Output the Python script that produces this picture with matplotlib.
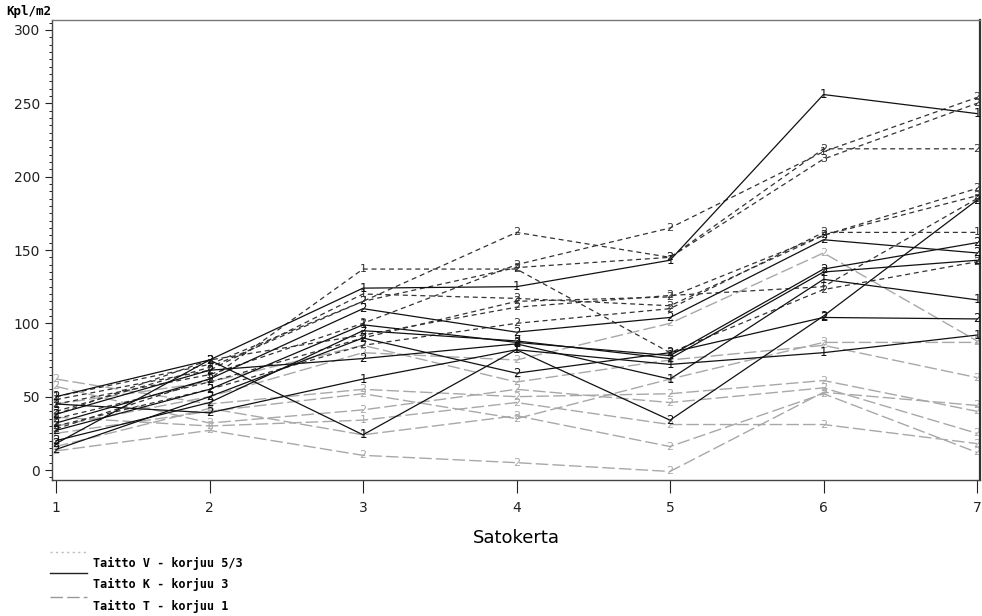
import matplotlib
matplotlib.use("Agg")
import matplotlib.pyplot as plt
from matplotlib.ticker import MultipleLocator
from matplotlib.lines import Line2D

sato = [1, 2, 3, 4, 5, 6, 7]

# Taitto V - korjuu 5/3 (black dashed)
v_series = [
    [45, 65, 100, 140, 165, 217, 254],
    [40, 70, 115, 138, 145, 212, 250],
    [50, 72, 115, 162, 145, 219, 219],
    [35, 60, 90, 115, 118, 160, 192],
    [30, 55, 85, 100, 110, 162, 162],
    [28, 62, 137, 137, 80, 123, 142],
    [48, 68, 120, 117, 112, 160, 187],
    [38, 75, 92, 111, 119, 125, 185],
]
v_labels = ["2122212", "2222232", "1222222", "2222222", "2222221", "2112222", "2212222", "2222212"]

# Taitto K - korjuu 3 (solid black)
k_series = [
    [50, 75, 124, 125, 143, 256, 243],
    [18, 75, 24, 82, 34, 105, 184],
    [32, 62, 110, 94, 104, 157, 148],
    [27, 55, 99, 87, 78, 137, 155],
    [20, 46, 95, 88, 76, 135, 143],
    [38, 68, 76, 86, 62, 130, 116],
    [14, 50, 90, 66, 80, 104, 103],
    [45, 39, 62, 82, 72, 80, 92],
]
k_labels = ["2211111", "2211222", "2222222", "2212122", "2222222", "2222111", "2222222", "1211111"]

# Taitto T - korjuu 1 (grey long dashes)
t_series = [
    [62, 45, 55, 50, 52, 61, 40],
    [57, 32, 41, 55, 46, 56, 25],
    [36, 30, 34, 46, 31, 31, 18],
    [16, 42, 24, 37, 16, 52, 12],
    [13, 27, 10, 5, -1, 53, 44],
    [25, 40, 52, 35, 62, 87, 87],
    [30, 50, 80, 75, 100, 148, 88],
    [45, 60, 85, 60, 75, 85, 63],
]
t_labels = ["2222222", "2222222", "2212222", "2222222", "2222222", "2222222", "2222222", "2222222"]

y_ticks = [0, 50, 100, 150, 200, 250, 300]
legend_labels = ["Taitto V - korjuu 5/3", "Taitto K - korjuu 3", "Taitto T - korjuu 1"]

fig = plt.figure(figsize=(9.82, 6.16), dpi=100)
ax = fig.add_axes([52/982, 1-480/616, 928/982, 460/616])

mono = "DejaVu Sans Mono"

def draw(series, labels, color, ls, lw, fs, z):
    for vals, labs in zip(series, labels):
        ax.plot(sato, vals, color=color, linestyle=ls, linewidth=lw, zorder=z)
        for x, y, lab in zip(sato, vals, labs):
            ax.text(x, y, lab, color=color, fontsize=fs, ha="center", va="center",
                    family="DejaVu Sans", zorder=z + 0.5)

draw(t_series, t_labels, "#a8a8a8", (0, (9, 3)), 1.0, 8, 1)
draw(v_series, v_labels, "#333333", (0, (4, 3)), 0.9, 8, 2)
draw(k_series, k_labels, "#111111", "-", 0.9, 8.5, 3)

ax.set_xlim(1 - 4/153.5, 7 + 3/153.5)
ax.set_ylim(-10/1.4667, 300 + 10/1.4667)
ax.set_xticks(sato)
ax.set_yticks(y_ticks)
ax.yaxis.set_minor_locator(MultipleLocator(5))
ax.tick_params(axis="both", direction="out", labelsize=10, width=0.8, colors="#222222")
ax.tick_params(axis="y", which="major", length=5)
ax.tick_params(axis="y", which="minor", length=2.5, width=0.6)
ax.tick_params(axis="x", which="major", length=9, pad=6)
for s in ax.spines.values():
    s.set_color("#444444")
    s.set_linewidth(1.0)
ax.spines["top"].set_color("#777777")
ax.spines["right"].set_linewidth(1.6)
ax.spines["right"].set_color("#333333")

fig.text(516/982, 1-538/616, "Satokerta", ha="center", va="center", fontsize=13, family="DejaVu Sans")
fig.text(6/982, 1-12/616, "Kpl/m2", ha="left", va="center", fontsize=9, family=mono, fontweight="bold")

# legend below
leg_styles = [("#bbbbbb", (0, (1.5, 2.5)), 552, 563),
              ("#222222", "-", 573, 584),
              ("#999999", (0, (9, 3)), 597, 606)]
for (c, ls, ly, ty), lab in zip(leg_styles, legend_labels):
    fig.add_artist(Line2D([50/982, 87/982], [1-ly/616, 1-ly/616], color=c, linestyle=ls, linewidth=1.0))
    fig.text(93/982, 1-ty/616, lab, ha="left", va="center", fontsize=8.5, family=mono, fontweight="bold")

fig.savefig("out.png", dpi=100)
